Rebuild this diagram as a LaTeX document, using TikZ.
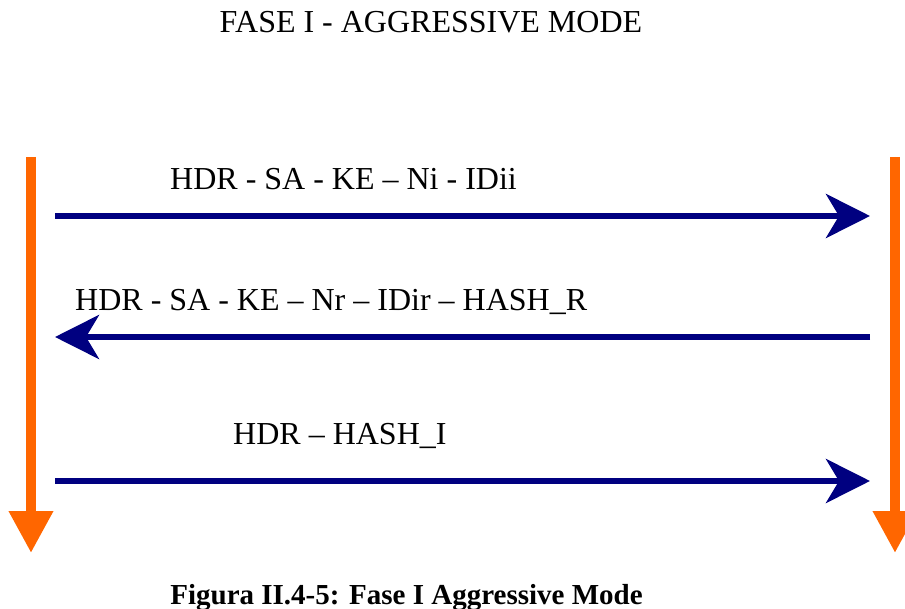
\documentclass[tikz,border=0pt]{standalone}
\usepackage{fontspec}
\setmainfont{Liberation Serif}
\usetikzlibrary{arrows.meta}
\definecolor{lifeorange}{HTML}{FF6600}
\definecolor{msgnavy}{HTML}{000080}
\tikzset{
  lifeline/.style={draw=lifeorange, line width=10pt,
    -{Triangle[length=42pt,width=42pt]}, fill=lifeorange},
  message/.style={draw=msgnavy, line width=6pt,
    -{Stealth[length=44pt,width=44pt,inset=13pt]}},
  msglabel/.style={inner sep=0pt, anchor=base west, font=\fontsize{32}{36}\selectfont},
  titlelabel/.style={inner sep=0pt, anchor=base, font=\fontsize{32}{36}\selectfont},
  captionlabel/.style={inner sep=0pt, anchor=base, font=\fontsize{29}{34}\selectfont\bfseries},
}
\begin{document}
\begin{tikzpicture}[x=1pt, y=-1pt]
  \useasboundingbox (0,0) rectangle (905,609);

  % heading and caption
  \node[titlelabel] (title) at (431,33) {FASE I - AGGRESSIVE MODE};
  \node[captionlabel] (caption) at (406.5,604) {Figura II.4-5: Fase I Aggressive Mode};

  % lifelines of initiator and responder
  \coordinate (iTop) at (31,157);
  \coordinate (iEnd) at (31,553);
  \coordinate (rTop) at (895,157);
  \coordinate (rEnd) at (895,553);
  \draw[lifeline] (iTop) -- (iEnd);
  \draw[lifeline] (rTop) -- (rEnd);

  % message end points
  \coordinate (m1a) at (55,216);
  \coordinate (m1b) at (870,216);
  \coordinate (m2a) at (870,337);
  \coordinate (m2b) at (55,337);
  \coordinate (m3a) at (55,481);
  \coordinate (m3b) at (870,481);

  % messages
  \draw[message] (m1a) -- (m1b);
  \draw[message] (m2a) -- (m2b);
  \draw[message] (m3a) -- (m3b);

  % message labels
  \node[msglabel] (l1) at (170,190) {HDR - SA - KE – Ni - IDii};
  \node[msglabel] (l2) at (75,311) {HDR - SA - KE – Nr – IDir – HASH\_R};
  \node[msglabel] (l3) at (233,445) {HDR – HASH\_I};
\end{tikzpicture}
\end{document}
